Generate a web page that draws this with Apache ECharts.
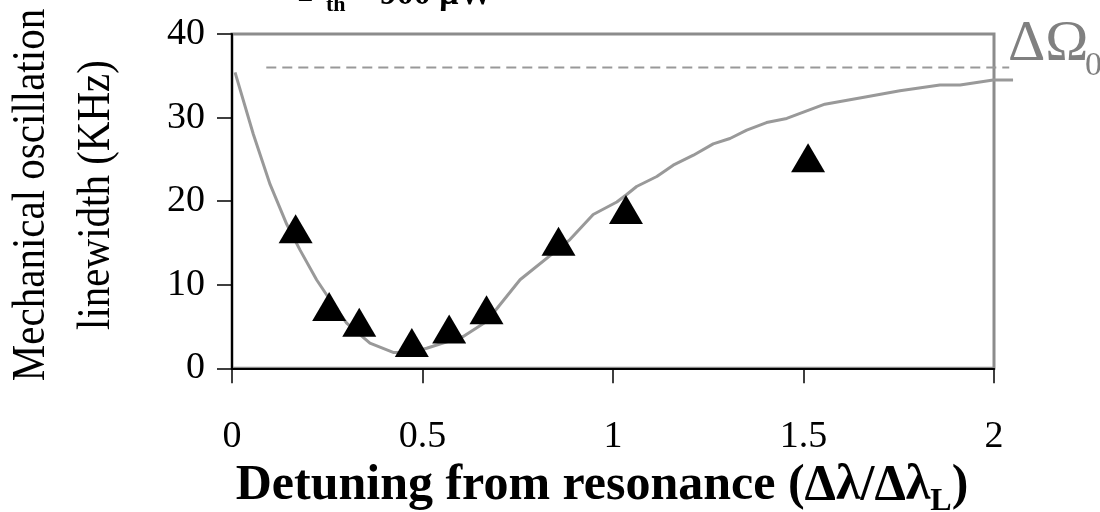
<!DOCTYPE html>
<html>
<head>
<meta charset="utf-8">
<script src="https://cdn.jsdelivr.net/npm/echarts@6/dist/echarts.min.js"></script>
<style>
  html, body { margin: 0; padding: 0; background: #ffffff; }
  #chart { width: 1100px; height: 512px; }
</style>
</head>
<body>
<div id="chart"></div>
<script>
// Measured mechanical linewidth (KHz) against normalised detuning
const measuredPoints = [
  [0.167, 16.7], [0.255, 7.4], [0.334, 5.5], [0.472, 3.1], [0.570, 4.7],
  [0.668, 7.0], [0.857, 15.2], [1.034, 19.0], [1.512, 25.2]
];

// Model curve of the linewidth
const modelCurve = [
  [0.008, 35.4], [0.056, 28.0], [0.100, 22.0], [0.144, 17.2], [0.178, 14.2],
  [0.222, 10.6], [0.257, 8.2], [0.301, 5.4], [0.362, 3.0], [0.423, 1.9],
  [0.470, 1.9], [0.511, 2.4], [0.607, 3.8], [0.668, 5.6], [0.756, 10.6],
  [0.887, 15.4], [0.948, 18.4], [1.010, 19.9], [1.036, 20.8], [1.062, 21.75],
  [1.115, 22.95], [1.158, 24.3], [1.211, 25.5], [1.263, 26.85], [1.307, 27.5],
  [1.351, 28.5], [1.403, 29.4], [1.456, 29.9], [1.491, 30.5], [1.556, 31.6],
  [1.666, 32.5], [1.753, 33.2], [1.858, 33.9], [1.911, 33.9], [1.998, 34.5],
  [2.050, 34.5]
];

// Intrinsic linewidth level ΔΩ0
const intrinsicLevel = [[0.09, 36.0], [2.04, 36.0]];

// Axis ranges and tick spacing
const xRange = [0, 2];
const xStep = 0.5;
const yRange = [0, 40];
const yStep = 10;

const SERIF = '"Liberation Serif", "Times New Roman", serif';

const chart = echarts.init(document.getElementById('chart'), null, { renderer: 'canvas' });

// width of a piece of text, used to lay out the subscripted axis title
const measureCtx = document.createElement('canvas').getContext('2d');
function textWidth(str, font) {
  measureCtx.font = font;
  return measureCtx.measureText(str).width;
}

// polyline through a whole point list, mapped by the axes; may run past the frame
function polylineRenderer(points, style) {
  return function (params, api) {
    if (params.dataIndex !== 0) return null;
    return {
      type: 'polyline',
      silent: true,
      shape: { points: points.map(function (p) { return api.coord(p); }) },
      style: Object.assign({ fill: null }, style)
    };
  };
}

const xTitleMain = 'Detuning from resonance (Δλ/Δλ';
const xTitleSub = 'L';
const xTitleEnd = ')';
const xTitleSize = 50;
const xTitleSubSize = 32;
const w1 = textWidth(xTitleMain, 'bold ' + xTitleSize + 'px ' + SERIF);
const w2 = textWidth(xTitleSub, 'bold ' + xTitleSubSize + 'px ' + SERIF);
const w3 = textWidth(xTitleEnd, 'bold ' + xTitleSize + 'px ' + SERIF);
const xTitleCenter = 602;
const xTitleLeft = xTitleCenter - (w1 + w2 + w3) / 2;
const xTitleMid = 486;

const option = {
  animation: false,
  backgroundColor: '#ffffff',
  grid: {
    left: 232, top: 34, width: 762, height: 334.3,
    show: true, borderColor: '#8c8c8c', borderWidth: 3, backgroundColor: '#ffffff'
  },
  xAxis: {
    type: 'value',
    min: xRange[0], max: xRange[1], interval: xStep,
    axisLine: { show: true, onZero: false, lineStyle: { color: '#000000', width: 2 } },
    axisTick: { show: true, inside: false, length: 15, lineStyle: { color: '#000000', width: 1.5 } },
    axisLabel: { show: true, margin: 50, color: '#000000', fontFamily: SERIF, fontSize: 38 },
    splitLine: { show: false }
  },
  yAxis: {
    type: 'value',
    min: yRange[0], max: yRange[1], interval: yStep,
    axisLine: { show: true, onZero: false, lineStyle: { color: '#000000', width: 2 } },
    axisTick: { show: true, inside: false, length: 15, lineStyle: { color: '#000000', width: 1.5 } },
    axisLabel: { show: true, margin: 27, color: '#000000', fontFamily: SERIF, fontSize: 38 },
    splitLine: { show: false }
  },
  series: [
    {
      name: 'level',
      type: 'custom',
      data: intrinsicLevel,
      clip: false,
      silent: true,
      renderItem: polylineRenderer(intrinsicLevel, { stroke: '#999999', lineWidth: 2, lineDash: [10, 6] }),
      z: 2
    },
    {
      name: 'model',
      type: 'custom',
      data: modelCurve,
      clip: false,
      silent: true,
      renderItem: polylineRenderer(modelCurve, { stroke: '#999999', lineWidth: 3, lineJoin: 'round' }),
      z: 3
    },
    {
      name: 'measured',
      type: 'scatter',
      data: measuredPoints,
      symbol: 'triangle',
      symbolSize: [34, 29],
      itemStyle: { color: '#000000', opacity: 1 },
      z: 4
    }
  ],
  graphic: [
    // y axis title, two lines read bottom to top
    {
      type: 'text', x: 32, y: 195, rotation: Math.PI / 2, scaleY: 1.12,
      style: {
        text: 'Mechanical oscillation', fill: '#000000',
        font: '41px ' + SERIF, align: 'center', verticalAlign: 'middle'
      }
    },
    {
      type: 'text', x: 97, y: 195, rotation: Math.PI / 2, scaleY: 1.12,
      style: {
        text: 'linewidth (KHz)', fill: '#000000',
        font: '41px ' + SERIF, align: 'center', verticalAlign: 'middle'
      }
    },
    // x axis title with subscript
    {
      type: 'text', x: xTitleLeft, y: xTitleMid,
      style: {
        text: xTitleMain, fill: '#000000',
        font: 'bold ' + xTitleSize + 'px ' + SERIF, align: 'left', verticalAlign: 'middle'
      }
    },
    {
      type: 'text', x: xTitleLeft + w1, y: xTitleMid + 16,
      style: {
        text: xTitleSub, fill: '#000000',
        font: 'bold ' + xTitleSubSize + 'px ' + SERIF, align: 'left', verticalAlign: 'middle'
      }
    },
    {
      type: 'text', x: xTitleLeft + w1 + w2, y: xTitleMid,
      style: {
        text: xTitleEnd, fill: '#000000',
        font: 'bold ' + xTitleSize + 'px ' + SERIF, align: 'left', verticalAlign: 'middle'
      }
    },
    // threshold power label along the top edge
    {
      type: 'text', x: 298, y: -9,
      style: { text: 'P', fill: '#000000', font: 'bold 38px ' + SERIF, align: 'left', verticalAlign: 'middle' }
    },
    {
      type: 'text', x: 326, y: 5,
      style: { text: 'th', fill: '#000000', font: 'bold 22px ' + SERIF, align: 'left', verticalAlign: 'middle' }
    },
    {
      type: 'text', x: 352, y: -5,
      style: { text: '= 900 μW', fill: '#000000', font: 'bold 34px ' + SERIF, align: 'left', verticalAlign: 'middle' }
    },
    // ΔΩ0 label next to the dashed level
    {
      type: 'text', x: 1008, y: 45,
      style: { text: 'ΔΩ', fill: '#808080', font: '58px ' + SERIF, align: 'left', verticalAlign: 'middle' }
    },
    {
      type: 'text', x: 1085, y: 66,
      style: { text: '0', fill: '#808080', font: '34px ' + SERIF, align: 'left', verticalAlign: 'middle' }
    }
  ]
};

chart.setOption(option);
</script>
</body>
</html>
